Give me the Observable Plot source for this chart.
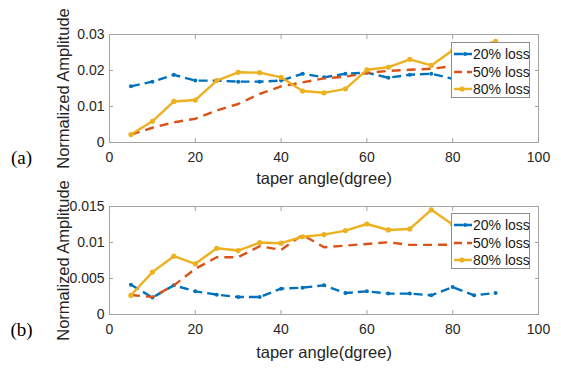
<!DOCTYPE html>
<html>
<head>
<meta charset="utf-8">
<script src="https://cdn.jsdelivr.net/npm/d3@7"></script>
<script src="https://cdn.jsdelivr.net/npm/@observablehq/plot@0.6"></script>
<style>
  body { margin: 0; background: #fff; }
  #wrap { position: relative; width: 561px; height: 368px; overflow: hidden; font-family: "Liberation Sans", Arial, sans-serif; }
  #wrap svg { display: block; }
  .legend { position: absolute; background: #fff; border: 1px solid #8c8c8c; box-sizing: border-box; }
  .legend .row { position: absolute; left: 0; height: 18px; width: 100%; }
  .legend .row svg { position: absolute; left: 0; top: 0; }
  .legend .row span { position: absolute; left: 21px; top: 0; line-height: 18px; font-size: 14px; color: #1a1a1a; white-space: nowrap; }
</style>
</head>
<body>
<div id="wrap"></div>
<script>
// ---- data ----
const angles = [5,10,15,20,25,30,35,40,45,50,55,60,65,70,75,80,85,90];
const seriesNames = ["20% loss", "50% loss", "80% loss"];
const a20 = [0.0156,0.0169,0.0188,0.0172,0.0172,0.0169,0.0169,0.0172,0.0191,0.0181,0.0191,0.0194,0.0180,0.0188,0.0191,0.0177,0.0175,0.0180];
const a50 = [0.0022,0.0041,0.0056,0.0066,0.0089,0.0107,0.0135,0.0156,0.0167,0.0178,0.0183,0.0193,0.0199,0.0202,0.0205,0.0212,0.0220,0.0225];
const a80 = [0.0022,0.0059,0.0114,0.0118,0.0172,0.0195,0.0194,0.0181,0.0143,0.0138,0.0149,0.0202,0.0209,0.0231,0.0214,0.0256,0.0265,0.0281];
const b20 = [0.00414,0.00235,0.00405,0.00322,0.00276,0.00243,0.00243,0.00359,0.00373,0.00405,0.00298,0.00322,0.00290,0.00290,0.00267,0.00381,0.00267,0.00298];
const b50 = [0.00270,0.00243,0.00405,0.00635,0.00796,0.00796,0.00948,0.00898,0.01105,0.00934,0.00957,0.00980,0.01003,0.00967,0.00967,0.00970,0.00970,0.00970];
const b80 = [0.00267,0.00589,0.00810,0.00704,0.00920,0.00888,0.00999,0.00990,0.01080,0.01110,0.01165,0.01257,0.01174,0.01188,0.01454,0.01250,0.01220,0.01220];
const xTicks = [0,20,40,60,80,100];
const yTicksA = [0,0.01,0.02,0.03];
const yTickLabelsA = ["0","0.01","0.02","0.03"];
const yTicksB = [0,0.005,0.01,0.015];
const yTickLabelsB = ["0","0.005","0.01","0.015"];
const xLabel = "taper angle(dgree)";
const yLabel = "Normalized Amplitude";
const panelTags = ["(a)", "(b)"];

// ---- styles ----
const colors = ["#0072BD", "#D95319", "#EDB120"];
const dashes = ["9,5", "9,6", null];
const frameColor = "#a3a3a3";
const textColor = "#262626";

function toRows(vals) { return angles.map((a, i) => ({x: a, y: vals[i]})); }

function panel({series, yDomain, yTicks, yLabels, tag, marginTop, marginBottom, xLabelDy}) {
  const H = 184;
  const fmt = d => yLabels[yTicks.indexOf(d)] ?? String(d);
  const marks = [
    Plot.frame({stroke: frameColor, strokeWidth: 1}),
    Plot.axisX({anchor: "bottom", ticks: xTicks, tickSize: -4, tickPadding: 14, label: null, stroke: frameColor, fill: textColor, fontSize: 14, tickFormat: d => String(d)}),
    Plot.axisX({anchor: "top", ticks: xTicks, tickSize: -4, label: null, stroke: frameColor, tickFormat: () => ""}),
    Plot.axisY({anchor: "left", ticks: yTicks, tickSize: -4, tickPadding: 9, label: null, stroke: frameColor, fill: textColor, fontSize: 14, tickFormat: fmt}),
    Plot.axisY({anchor: "right", ticks: yTicks, tickSize: -4, label: null, stroke: frameColor, tickFormat: () => ""}),
    Plot.text([xLabel], {frameAnchor: "bottom", dy: xLabelDy, text: d => d, fontSize: 16.5, fill: textColor, lineAnchor: "middle", textAnchor: "middle"}),
    Plot.text([yLabel], {frameAnchor: "left", dx: -46, rotate: -90, text: d => d, fontSize: 16.5, fill: textColor, textAnchor: "middle", lineAnchor: "middle"}),
    Plot.text([tag], {frameAnchor: "bottom-left", dx: -88, dy: 15, text: d => d, fontSize: 19, fill: "#000", textAnchor: "middle", lineAnchor: "middle", fontFamily: "'Liberation Serif', 'Times New Roman', serif"})
  ];
  series.forEach((vals, i) => {
    const rows = toRows(vals);
    marks.push(Plot.line(rows, {x: "x", y: "y", stroke: colors[i], strokeWidth: 2.4, strokeDasharray: dashes[i] || undefined, strokeLinecap: "butt"}));
    if (i === 0) marks.push(Plot.dot(rows, {x: "x", y: "y", r: 2, fill: colors[i], stroke: "none"}));
    if (i === 2) marks.push(Plot.dot(rows, {x: "x", y: "y", r: 2.6, fill: colors[i], stroke: "none"}));
  });
  return Plot.plot({
    width: 561, height: H,
    marginLeft: 109, marginRight: 23, marginTop, marginBottom,
    style: {fontFamily: "'Liberation Sans', Arial, sans-serif", fontSize: "14px", color: textColor, background: "transparent", overflow: "visible"},
    x: {domain: [0, 100]},
    y: {domain: yDomain},
    marks
  });
}

const wrap = document.getElementById("wrap");
wrap.appendChild(panel({series: [a20, a50, a80], yDomain: [0, 0.03], yTicks: yTicksA, yLabels: yTickLabelsA, tag: panelTags[0], marginTop: 34, marginBottom: 42, xLabelDy: 36}));
wrap.appendChild(panel({series: [b20, b50, b80], yDomain: [0, 0.015], yTicks: yTicksB, yLabels: yTickLabelsB, tag: panelTags[1], marginTop: 22, marginBottom: 54, xLabelDy: 38}));

function legend(left, top) {
  const L = document.createElement("div");
  L.className = "legend";
  Object.assign(L.style, {left: left + "px", top: top + "px", width: "79px", height: "56px"});
  seriesNames.forEach((name, i) => {
    const row = document.createElement("div");
    row.className = "row";
    row.style.top = (2 + i * 17.5) + "px";
    const ns = "http://www.w3.org/2000/svg";
    const s = document.createElementNS(ns, "svg");
    s.setAttribute("width", 22); s.setAttribute("height", 18);
    const ln = document.createElementNS(ns, "line");
    ln.setAttribute("x1", 2); ln.setAttribute("x2", 20); ln.setAttribute("y1", 9); ln.setAttribute("y2", 9);
    ln.setAttribute("stroke", colors[i]); ln.setAttribute("stroke-width", 2.4);
    if (dashes[i]) ln.setAttribute("stroke-dasharray", i === 0 ? "9,3" : "8,5");
    s.appendChild(ln);
    if (i !== 1) {
      const c = document.createElementNS(ns, "circle");
      c.setAttribute("cx", i === 0 ? 13 : 10); c.setAttribute("cy", 9); c.setAttribute("r", i === 0 ? 2 : 2.6);
      c.setAttribute("fill", colors[i]);
      s.appendChild(c);
    }
    row.appendChild(s);
    const t = document.createElement("span");
    t.textContent = name;
    row.appendChild(t);
    L.appendChild(row);
  });
  wrap.appendChild(L);
}
legend(451, 42);
legend(451, 213);
</script>
</body>
</html>
